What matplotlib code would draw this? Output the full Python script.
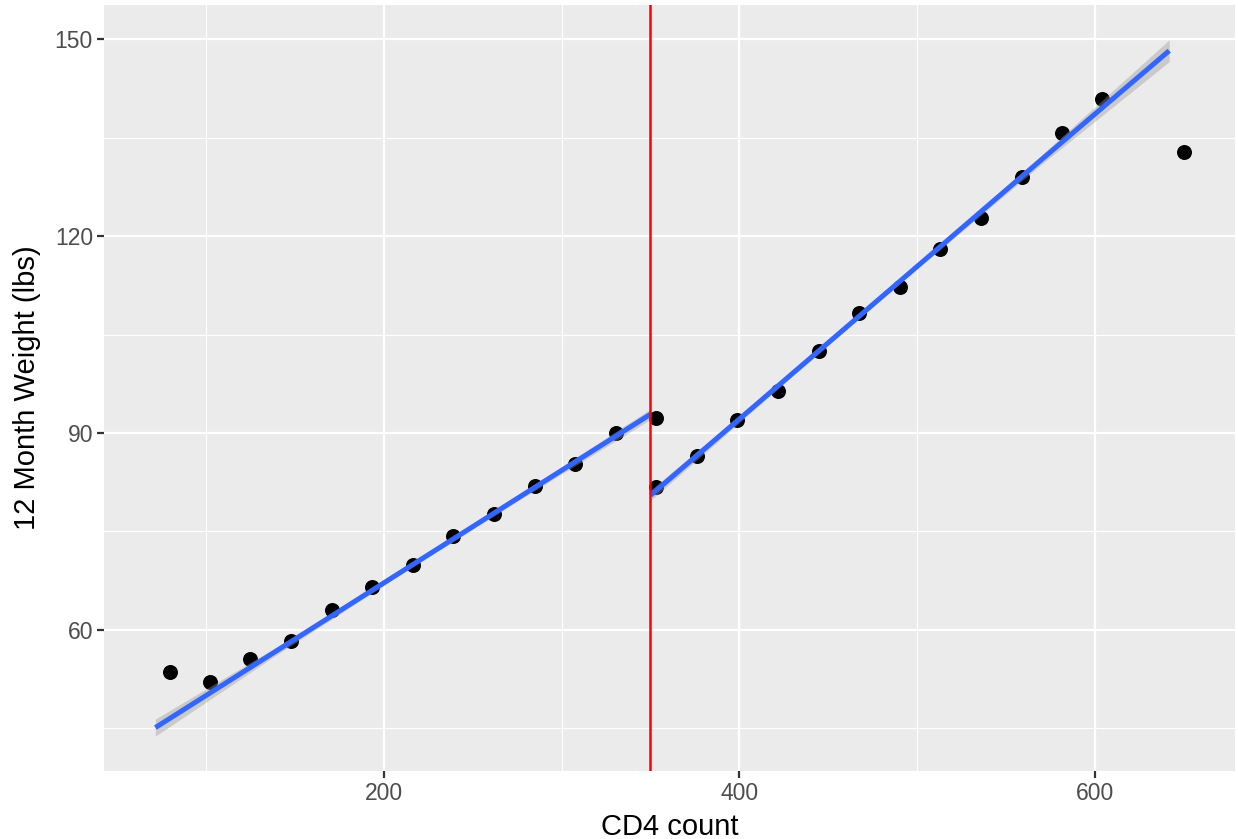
import matplotlib
matplotlib.use('Agg')

import matplotlib.pyplot as plt
import numpy as np

# ==================== DATA ====================

cd4 = [79.6, 102.3, 125.0, 147.9, 170.6, 193.5, 216.3, 239.1, 261.9, 284.8,
       307.5, 330.4, 353.3, 353.3, 376.4, 398.9, 421.8, 444.7, 467.4, 490.4,
       512.9, 535.8, 558.8, 581.3, 604.0, 649.9]
weight = [53.5, 52.0, 55.5, 58.3, 63.0, 66.5, 69.8, 74.3, 77.7, 81.9,
          85.2, 90.0, 92.3, 81.8, 86.5, 92.0, 96.4, 102.5, 108.3, 112.2,
          118.0, 122.8, 129.1, 135.7, 140.9, 132.9]

cutoff = 350

# fitted lines either side of the cutoff, with standard-error half widths
fit_lo_x = [71.5, 140, 210, 280, 350.1]
fit_lo_y = [45.07, 56.83, 68.85, 80.86, 92.87]
fit_lo_se = [1.3, 0.6, 0.35, 0.45, 0.8]

fit_hi_x = [350.1, 420, 495, 570, 641.8]
fit_hi_y = [80.51, 96.78, 114.23, 131.69, 148.29]
fit_hi_se = [0.8, 0.45, 0.35, 0.7, 1.67]

x_ticks = [200, 400, 600]
x_minor = [100, 300, 500]
y_ticks = [60, 90, 120, 150]
y_minor = [45, 75, 105, 135]

# ==================== STYLE ====================

PANEL = '#EBEBEB'
plt.rcParams['font.family'] = ['Liberation Sans', 'DejaVu Sans']

fig = plt.figure(figsize=(12.38, 8.39), dpi=100)
ax = fig.add_axes([104 / 1238, 68 / 839, 1131 / 1238, 766 / 839])
ax.set_facecolor(PANEL)
for sp in ax.spines.values():
    sp.set_visible(False)

ax.set_xlim(42.6, 678.8)
ax.set_ylim(38.45, 155.26)

# grid lines
for v in x_minor:
    ax.axvline(v, color='white', lw=0.85, zorder=0.5)
for v in y_minor:
    ax.axhline(v, color='white', lw=0.85, zorder=0.5)
for v in x_ticks:
    ax.axvline(v, color='white', lw=1.6, zorder=0.6)
for v in y_ticks:
    ax.axhline(v, color='white', lw=1.6, zorder=0.6)

# points
ax.plot(cd4, weight, 'o', color='black', markersize=10.8,
        markeredgewidth=0, zorder=2)

# smooth fits with confidence band
for fx, fy, se in [(fit_lo_x, fit_lo_y, fit_lo_se),
                   (fit_hi_x, fit_hi_y, fit_hi_se)]:
    fy = np.array(fy)
    se = np.array(se)
    ax.fill_between(fx, fy - se, fy + se, color='#999999', alpha=0.4,
                    linewidth=0, zorder=3)
    ax.plot(fx, fy, color='#3366FF', lw=3.6, solid_capstyle='butt', zorder=4)

# cutoff
ax.axvline(cutoff, color='red', lw=1.8, zorder=5)

# ticks and labels
ax.set_xticks(x_ticks)
ax.set_yticks(y_ticks)
ax.tick_params(axis='both', length=5, width=1.6, color='#333333',
               labelsize=16.5, labelcolor='#4D4D4D', pad=3)
ax.set_xlabel('CD4 count', fontsize=21, color='black', labelpad=6)
ax.set_ylabel('12 Month Weight (lbs)', fontsize=21, color='black', labelpad=10)

plt.savefig('out.png', dpi=100)
plt.close()
